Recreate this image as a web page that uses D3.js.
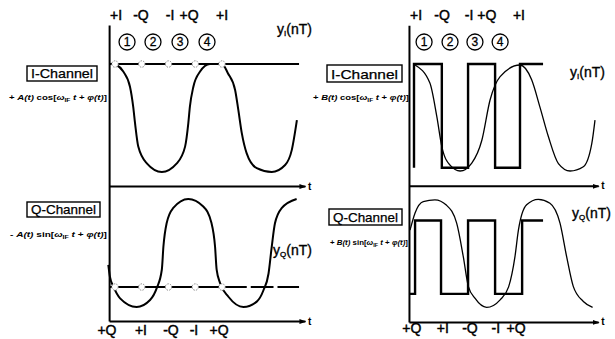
<!DOCTYPE html>
<html>
<head>
<meta charset="utf-8">
<script src="https://cdn.jsdelivr.net/npm/d3@7"></script>
<style>
  body { margin: 0; background: #fff; }
  svg { display: block; font-family: "Liberation Sans", Arial, sans-serif; }
</style>
</head>
<body>
<script>
// symbol instants (in symbol periods) and labels
const symbolTimes = [0, 1, 2, 3, 4];
const symbolNumbers = ['1', '2', '3', '4'];
const topLabels = ['+I', '-Q', '-I', '+Q', '+I'];
const bottomLabels = ['+Q', '+I', '-Q', '-I', '+Q'];

// left panel: sampled A(t) waveforms
const leftTopLabelT = [0.04, 0.97, 2.06, 2.77, 4.0];
const leftBottomLabelT = [-0.3, 0.97, 2.09, 2.95, 3.89];
const leftNumberT = [0.45, 1.42, 2.43, 3.44];
const leftIT = [0, 0.31, 0.56, 0.68, 0.75, 0.87, 1.19, 1.75, 2.31, 2.62, 2.74, 2.80, 2.93, 3.18, 3.55, 4.0, 4.22, 4.49, 4.61, 4.74, 4.92, 5.30, 5.86, 6.36, 6.61, 6.80];
const leftIV = [1, 0.86, 0.58, 0.21, -0.10, -0.53, -0.84, -1.0, -0.84, -0.53, -0.10, 0.21, 0.58, 0.86, 1.0, 1.0, 0.83, 0.52, 0.15, -0.28, -0.65, -0.93, -1.0, -0.87, -0.59, -0.04];
const leftQT = [-0.25, -0.19, -0.06, 0.19, 0.81, 1.31, 1.56, 1.75, 1.81, 1.93, 2.17, 2.74, 3.30, 3.61, 3.74, 3.80, 3.93, 4.24, 4.80, 5.30, 5.55, 5.74, 5.86, 5.98, 6.23, 6.79];
const leftQV = [-0.22, -0.44, -0.62, -0.84, -1.0, -0.87, -0.65, -0.31, 0.12, 0.55, 0.83, 1.0, 0.86, 0.55, 0.12, -0.31, -0.56, -0.81, -1.0, -0.90, -0.69, -0.38, 0.12, 0.55, 0.83, 1.0];
const leftILevel = 1;
const leftQLevel = -0.63;
const leftLevelEnd = 6.88;

// right panel: B(t) square waves and sinusoids
const rightTopLabelT = [0.08, 1.06, 2.08, 2.75, 3.96];
const rightBottomLabelT = [-0.08, 1.09, 2.11, 3.09, 3.85];
const rightNumberT = [0.38, 1.36, 2.3, 3.25];
const rightIT = [0.04, 0.60, 0.86, 1.05, 1.36, 1.74, 2.18, 2.56, 2.87, 3.25, 4.0, 4.44, 4.75, 5.07, 5.45, 5.89, 6.39, 6.71, 6.83];
const rightIV = [1.0, 0.66, 0.03, -0.54, -0.89, -1.0, -0.85, -0.42, 0.34, 0.78, 1.0, 0.72, 0.21, -0.35, -0.86, -1.0, -0.92, -0.48, -0.04];
const rightQT = [-0.15, 0.04, 0.35, 0.79, 1.23, 1.61, 1.86, 2.05, 2.30, 2.74, 3.25, 3.57, 3.81, 3.94, 4.25, 4.69, 5.13, 5.51, 5.76, 6.01, 6.39, 6.74];
const rightQV = [0.43, 0.75, 0.96, 0.99, 0.89, 0.56, -0.06, -0.61, -0.83, -1.0, -0.86, -0.62, -0.06, 0.43, 0.90, 1.0, 0.93, 0.56, -0.06, -0.61, -0.89, -1.0];
const squareIT = [0, 0, 1.05, 2.04, 3.06, 4.0, 4.87];
const squareIV = [-0.94, 1.02, -0.94, 1.02, -0.94, 1.02, 1.02];
const squareQT = [-0.15, 0.04, 1.02, 2.04, 3.06, 4.08, 4.87];
const squareQV = [-0.75, 0.61, -0.75, 0.61, -0.75, 0.61, 0.61];

const W = 615, H = 339;
const svg = d3.select('body').append('svg').attr('width', W).attr('height', H);

svg.append('defs').append('marker')
  .attr('id', 'arrow')
  .attr('markerUnits', 'userSpaceOnUse')
  .attr('markerWidth', 7).attr('markerHeight', 6)
  .attr('refX', 6).attr('refY', 3)
  .attr('orient', 'auto')
  .append('path').attr('d', 'M0,0.5 L7,3 L0,5.5 z').attr('fill', '#000');

const zip = (ts, vs) => ts.map((t, i) => ({ t: t, v: vs[i] }));

function hAxis(g, x, t0, t1, y) {
  const s = d3.scaleLinear().domain([t0, t1]).range([x(t0), x(t1)]);
  const a = g.append('g').attr('transform', 'translate(0,' + y + ')')
    .call(d3.axisBottom(s).tickValues([]).tickSizeOuter(0));
  a.select('.domain').attr('stroke-width', 2).attr('marker-end', 'url(#arrow)');
  g.append('text').attr('x', x(t1) + 3).attr('y', y + 3.5)
    .attr('font-size', 10).attr('font-weight', 'bold').text('t');
}

function labelRow(g, x, labels, ts, y) {
  g.selectAll(null).data(labels).enter().append('text')
    .attr('x', (d, i) => x(ts[i])).attr('y', y)
    .attr('text-anchor', 'middle')
    .attr('font-size', 14)
    .attr('stroke', '#000').attr('stroke-width', 0.45)
    .text(d => d);
}

function numbers(g, x, ts, y) {
  const n = g.selectAll(null).data(symbolNumbers).enter().append('g')
    .attr('transform', (d, i) => 'translate(' + x(ts[i]) + ',' + y + ')');
  n.append('circle').attr('r', 8).attr('fill', 'none').attr('stroke', '#000').attr('stroke-width', 1.3);
  n.append('text').attr('text-anchor', 'middle').attr('dy', '0.36em')
    .attr('font-size', 12).attr('stroke', '#000').attr('stroke-width', 0.3).text(d => d);
}

function channelBox(g, name, x0, x1, y0, y1) {
  g.append('rect').attr('x', x0).attr('y', y0).attr('width', x1 - x0).attr('height', y1 - y0)
    .attr('fill', '#fff').attr('stroke', '#000').attr('stroke-width', 1.4);
  g.append('text').attr('x', (x0 + x1) / 2).attr('y', y1 - 3.5)
    .attr('text-anchor', 'middle').attr('font-size', 13)
    .attr('textLength', x1 - x0 - 8).attr('lengthAdjust', 'spacingAndGlyphs')
    .attr('stroke', '#000').attr('stroke-width', 0.25)
    .text(name);
}

function equation(g, sign, amp, fn, x0, x1, y) {
  const t = g.append('text').attr('x', x0).attr('y', y)
    .attr('font-size', 6.5).attr('font-weight', 'bold')
    .attr('textLength', x1 - x0).attr('lengthAdjust', 'spacingAndGlyphs');
  t.append('tspan').text(sign + ' ');
  t.append('tspan').attr('font-style', 'italic').text(amp + '(t)');
  t.append('tspan').text(' ' + fn + '[');
  t.append('tspan').attr('font-style', 'italic').text('ω');
  t.append('tspan').attr('font-size', 4.5).attr('dy', 1.5).text('IF');
  t.append('tspan').attr('dy', -1.5).attr('font-style', 'italic').text(' t');
  t.append('tspan').text(' + ');
  t.append('tspan').attr('font-style', 'italic').text('φ(t)');
  t.append('tspan').text(']');
}

function yLabel(g, sub, x, y) {
  const t = g.append('text').attr('x', x).attr('y', y).attr('font-size', 14)
    .attr('stroke', '#000').attr('stroke-width', 0.35);
  t.append('tspan').text('y');
  t.append('tspan').attr('font-size', 8).attr('dy', 2).text(sub);
  t.append('tspan').attr('dy', -2).text('(nT)');
}

function drawPanel(p) {
  const g = svg.append('g');
  const x = p.x, yI = p.yI, yQ = p.yQ;

  // vertical axis
  const vs = d3.scaleLinear().domain([0, 1]).range([yI(p.vTop), yQ(p.vBottom)]);
  g.append('g').attr('transform', 'translate(' + x(p.tAxis0) + ',0)')
    .call(d3.axisLeft(vs).tickValues([]).tickSizeOuter(0))
    .select('.domain').attr('stroke-width', 2);

  hAxis(g, x, p.tAxis0, p.tAxis1, yI(p.vMid));
  hAxis(g, x, p.tAxis0, p.tAxis1, yQ(p.vBottom));

  labelRow(g, x, topLabels, p.topT, 20);
  labelRow(g, x, bottomLabels, p.bottomT, p.bottomY);
  numbers(g, x, p.numT, 42);

  channelBox(g, 'I-Channel', p.boxI[0], p.boxI[1], p.boxI[2], p.boxI[3]);
  channelBox(g, 'Q-Channel', p.boxQ[0], p.boxQ[1], p.boxQ[2], p.boxQ[3]);
  equation(g, '+', p.amp, 'cos', p.eqI[0], p.eqI[1], p.eqI[2]);
  equation(g, p.qSign, p.amp, 'sin', p.eqQ[0], p.eqQ[1], p.eqQ[2]);

  yLabel(g, 'I', p.yILabel[0], p.yILabel[1]);
  yLabel(g, 'Q', p.yQLabel[0], p.yQLabel[1]);
  return g;
}

// ---------- left panel ----------
const xL = d3.scaleLinear().domain([0, 4]).range([115, 222]);
const yIL = d3.scaleLinear().domain([-1, 1]).range([172, 64]);
const yQL = d3.scaleLinear().domain([-1, 1]).range([307, 199]);

const gL = drawPanel({
  x: xL, yI: yIL, yQ: yQL,
  vTop: 1.72, vMid: -1.26, vBottom: -1.26, tAxis0: -0.22, tAxis1: 7.1,
  topT: leftTopLabelT, bottomT: leftBottomLabelT, bottomY: 335, numT: leftNumberT,
  boxI: [27, 97, 66, 81], boxQ: [27, 100, 202, 217],
  amp: 'A', qSign: '-',
  eqI: [9, 107, 100], eqQ: [10, 107, 237],
  yILabel: [277, 34], yQLabel: [273, 255]
});

const lineL = (yS) => d3.line().x(d => xL(d.t)).y(d => yS(d.v)).curve(d3.curveMonotoneX);

// reference levels with symbol markers
gL.append('line')
  .attr('x1', xL(-0.22)).attr('x2', xL(leftLevelEnd))
  .attr('y1', yIL(leftILevel)).attr('y2', yIL(leftILevel))
  .attr('stroke', '#000').attr('stroke-width', 1.8);
const step = xL(1) - xL(0);
gL.append('line')
  .attr('x1', xL(-0.22)).attr('x2', xL(leftLevelEnd))
  .attr('y1', yQL(leftQLevel)).attr('y2', yQL(leftQLevel))
  .attr('stroke', '#000').attr('stroke-width', 1.8)
  .attr('stroke-dasharray', (step - 4) + ',4')
  .attr('stroke-dashoffset', (step - 4) - (xL(0) - xL(-0.22) - 2));

gL.append('path').attr('d', lineL(yIL)(zip(leftIT, leftIV)))
  .attr('fill', 'none').attr('stroke', '#000').attr('stroke-width', 2);
gL.append('path').attr('d', lineL(yQL)(zip(leftQT, leftQV)))
  .attr('fill', 'none').attr('stroke', '#000').attr('stroke-width', 2);

[[yIL, leftILevel], [yQL, leftQLevel]].forEach(([yS, lv]) => {
  gL.selectAll(null).data(symbolTimes).enter().append('circle')
    .attr('cx', d => xL(d)).attr('cy', yS(lv)).attr('r', 3.2)
    .attr('fill', '#fff').attr('stroke', '#888').attr('stroke-width', 1)
    .attr('stroke-dasharray', '1.5,1.2');
});

// ---------- right panel ----------
const xR = d3.scaleLinear().domain([0, 4]).range([414, 520]);
const yIR = d3.scaleLinear().domain([-1, 1]).range([171, 65]);
const yQR = d3.scaleLinear().domain([-1, 1]).range([307.4, 199.4]);

const gR = drawPanel({
  x: xR, yI: yIR, yQ: yQR,
  vTop: 1.75, vMid: -1.28, vBottom: -1.27, tAxis0: -0.19, tAxis1: 6.95,
  topT: rightTopLabelT, bottomT: rightBottomLabelT, bottomY: 333, numT: rightNumberT,
  boxI: [327, 402, 65, 82], boxQ: [329, 402, 209, 225],
  amp: 'B', qSign: '+',
  eqI: [313, 409, 100], eqQ: [330, 408, 245],
  yILabel: [570, 77], yQLabel: [572, 218]
});

const stepLine = (yS) => d3.line().x(d => xR(d.t)).y(d => yS(d.v)).curve(d3.curveStepAfter);
const sineLine = (yS) => d3.line().x(d => xR(d.t)).y(d => yS(d.v)).curve(d3.curveMonotoneX);

gR.append('path').attr('d', stepLine(yIR)(zip(squareIT, squareIV)))
  .attr('fill', 'none').attr('stroke', '#000').attr('stroke-width', 2.4);
gR.append('path').attr('d', stepLine(yQR)(zip(squareQT, squareQV)))
  .attr('fill', 'none').attr('stroke', '#000').attr('stroke-width', 2.4);
gR.append('path').attr('d', sineLine(yIR)(zip(rightIT, rightIV)))
  .attr('fill', 'none').attr('stroke', '#000').attr('stroke-width', 1.3);
gR.append('path').attr('d', sineLine(yQR)(zip(rightQT, rightQV)))
  .attr('fill', 'none').attr('stroke', '#000').attr('stroke-width', 1.3);
</script>
</body>
</html>
